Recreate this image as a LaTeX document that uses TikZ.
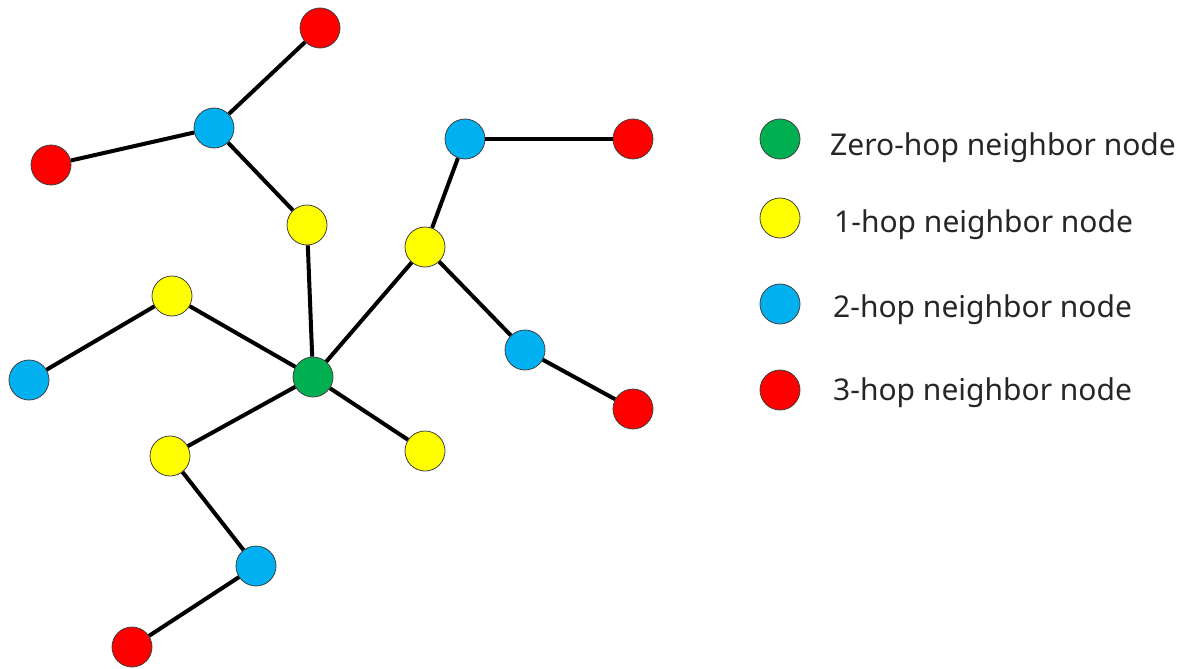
\documentclass[tikz,border=0pt]{standalone}
\usepackage{fontspec}
\setmainfont{Noto Sans}
\begin{document}
\begin{tikzpicture}[x=1pt,y=-1pt,
  hop/.style={circle,draw=black!75,line width=0.8pt,minimum size=40pt,inner sep=0pt},
  hop0/.style={hop,fill=hopgreen},
  hop1/.style={hop,fill=hopyellow},
  hop2/.style={hop,fill=hopblue},
  hop3/.style={hop,fill=hopred},
  link/.style={line width=4pt,black},
  legendtext/.style={anchor=base west,inner sep=0pt,font=\fontsize{30}{36}\selectfont,text=black!85}]
\definecolor{hopgreen}{HTML}{00B050}
\definecolor{hopyellow}{HTML}{FFFF00}
\definecolor{hopblue}{HTML}{00B0F0}
\definecolor{hopred}{HTML}{FF0000}
\useasboundingbox (0,0) rectangle (1181,669);

% graph nodes
\node[hop0] (c)  at (313,377) {};
\node[hop1] (y1) at (307,225) {};
\node[hop1] (y2) at (425,247) {};
\node[hop1] (y3) at (172,296) {};
\node[hop1] (y4) at (170,456) {};
\node[hop1] (y5) at (425,451) {};
\node[hop2] (b1) at (214,128) {};
\node[hop2] (b2) at (465,139) {};
\node[hop2] (b3) at (29,380) {};
\node[hop2] (b4) at (525,350) {};
\node[hop2] (b5) at (256,566) {};
\node[hop3] (r1) at (320,28) {};
\node[hop3] (r2) at (51,165) {};
\node[hop3] (r3) at (633,139) {};
\node[hop3] (r4) at (633,409) {};
\node[hop3] (r5) at (132,647) {};

% links
\draw[link] (c) -- (y1);
\draw[link] (c) -- (y2);
\draw[link] (c) -- (y3);
\draw[link] (c) -- (y4);
\draw[link] (c) -- (y5);
\draw[link] (y1) -- (b1);
\draw[link] (b1) -- (r1);
\draw[link] (b1) -- (r2);
\draw[link] (y2) -- (b2);
\draw[link] (b2) -- (r3);
\draw[link] (y2) -- (b4);
\draw[link] (b4) -- (r4);
\draw[link] (y3) -- (b3);
\draw[link] (y4) -- (b5);
\draw[link] (b5) -- (r5);

% legend
\node[hop0] (l0) at (780,139) {};
\node[hop1] (l1) at (780,218) {};
\node[hop2] (l2) at (780,304) {};
\node[hop3] (l3) at (780,390) {};
\node[legendtext] (t0) at (830,155) {Zero-hop neighbor node};
\node[legendtext] (t1) at (834,232) {1-hop neighbor node};
\node[legendtext] (t2) at (833,317) {2-hop neighbor node};
\node[legendtext] (t3) at (833,400) {3-hop neighbor node};
\end{tikzpicture}
\end{document}
